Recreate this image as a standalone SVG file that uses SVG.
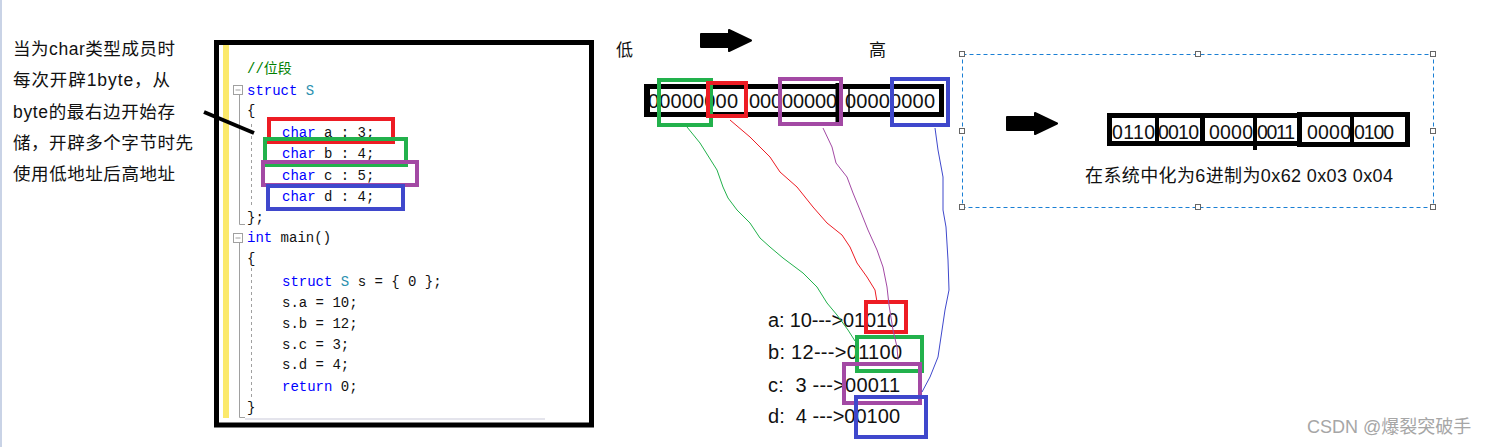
<svg xmlns="http://www.w3.org/2000/svg" width="1493" height="447" viewBox="0 0 1493 447">
<style>
.note{font-family:"Liberation Sans","Noto Sans CJK SC",sans-serif;font-size:17.5px;fill:#111}
.code{font-family:"Liberation Mono","Noto Sans CJK SC",monospace;font-size:14px;fill:#111}
.kw{fill:#0000ff}
.ty{fill:#2b91af}
.cm{fill:#008000}
.bits{font-family:"Liberation Sans","Noto Sans CJK SC",sans-serif;font-size:20px;fill:#111}
.lbl{font-family:"Liberation Sans","Noto Sans CJK SC",sans-serif;font-size:17px;fill:#111}
.hl{fill:none;stroke-width:4}
.red{stroke:#ed1c24}.green{stroke:#22b14c}.purple{stroke:#a349a4}.blue{stroke:#3f48cc}
.blk{fill:none;stroke:#000}
.curve{fill:none;stroke-width:1}
.handle{fill:#fff;stroke:#666;stroke-width:1}
.arrow{fill:#000;stroke:#000;stroke-width:2;stroke-linejoin:round}
</style>
<defs>
<polygon id="bigArrow" class="arrow" points="1,5 29,5 29,1 51,11.5 29,22 29,18 1,18"/>
</defs>
<rect x="0" y="0" width="1493" height="447" fill="#fff"/>
<rect x="0" y="0" width="2" height="447" fill="#c9d3e6"/>

<g id="note">
<text class="note" x="13" y="54.5" textLength="162">当为char类型成员时</text>
<text class="note" x="13" y="86" textLength="157">每次开辟1byte，从</text>
<text class="note" x="13" y="117.5" textLength="162">byte的最右边开始存</text>
<text class="note" x="13" y="148.5" textLength="180">储，开辟多个字节时先</text>
<text class="note" x="13" y="179.5" textLength="162">使用低地址后高地址</text>
</g>

<g id="code-box">
<rect x="216.5" y="42.5" width="375" height="382.5" fill="#fff" stroke="#000" stroke-width="5"/>
<rect x="223" y="45" width="6" height="373" fill="#fbe96b"/>
<rect x="245" y="418" width="300" height="2" fill="#e4e4ec"/>
<g fill="none" stroke="#a0a0a0" stroke-width="1">
<rect x="233.5" y="85.5" width="9" height="9" fill="#fff"/>
<line x1="235.5" y1="90" x2="240.5" y2="90"/>
<polyline points="239.5,95 239.5,224.5 245,224.5"/>
<line x1="251.5" y1="124" x2="251.5" y2="207" stroke-dasharray="3 3"/>
<rect x="233.5" y="233.5" width="9" height="9" fill="#fff"/>
<line x1="235.5" y1="238" x2="240.5" y2="238"/>
<polyline points="239.5,243 239.5,417.5 245,417.5"/>
<line x1="251.5" y1="268" x2="251.5" y2="398" stroke-dasharray="3 3"/>
</g>
<g class="code" xml:space="preserve">
<text x="247" y="73"><tspan class="cm">//位段</tspan></text>
<text x="247" y="95"><tspan class="kw">struct</tspan> <tspan class="ty">S</tspan></text>
<text x="247" y="115">{</text>
<text x="282" y="137"><tspan class="kw">char</tspan> a : 3;</text>
<text x="282" y="158"><tspan class="kw">char</tspan> b : 4;</text>
<text x="282" y="180"><tspan class="kw">char</tspan> c : 5;</text>
<text x="282" y="201"><tspan class="kw">char</tspan> d : 4;</text>
<text x="247" y="222">};</text>
<text x="247" y="242"><tspan class="kw">int</tspan> main()</text>
<text x="247" y="263">{</text>
<text x="282" y="286"><tspan class="kw">struct</tspan> <tspan class="ty">S</tspan> s = { 0 };</text>
<text x="282" y="307">s.a = 10;</text>
<text x="282" y="328">s.b = 12;</text>
<text x="282" y="349">s.c = 3;</text>
<text x="282" y="369">s.d = 4;</text>
<text x="282" y="391"><tspan class="kw">return</tspan> 0;</text>
<text x="247" y="412">}</text>
</g>
<rect class="hl red" x="269" y="119" width="124" height="23"/>
<rect class="hl green" x="265" y="139" width="141" height="26"/>
<rect class="hl purple" x="263" y="162" width="154" height="23"/>
<rect class="hl blue" x="268" y="186" width="135" height="23"/>
</g>

<g id="memory-row">
<text class="lbl" x="616" y="56">低</text>
<text class="lbl" x="869" y="56">高</text>
<use href="#bigArrow" x="700" y="29"/>
<rect x="648" y="87" width="292" height="27" fill="#fff"/>
<text class="bits" x="648" y="108" textLength="90">00000000</text>
<text class="bits" x="749" y="108" textLength="88">00000000</text>
<text class="bits" x="845" y="108" textLength="90">00000000</text>
<rect class="blk" x="647.5" y="86.5" width="294" height="28" stroke-width="5"/>
<line x1="646" y1="84" x2="646" y2="117" stroke="#000" stroke-width="4"/>
<line x1="838.5" y1="83" x2="838.5" y2="125" stroke="#000" stroke-width="6"/>
<line x1="849" y1="87" x2="849" y2="112" stroke="#000" stroke-width="1.5"/>
<rect class="hl green" x="659" y="80" width="52" height="45"/>
<rect class="hl red" x="708" y="83" width="38" height="33"/>
<rect class="hl purple" x="780" y="79" width="61" height="45"/>
<rect class="hl blue" x="892" y="79" width="56" height="46"/>
</g>

<g id="bit-values">
<text class="bits" x="768" y="327" textLength="130" xml:space="preserve">a: 10---&gt;01010</text>
<text class="bits" x="768" y="359" textLength="134" xml:space="preserve">b: 12---&gt;01100</text>
<text class="bits" x="768" y="392" textLength="132" xml:space="preserve">c:  3 ---&gt;00011</text>
<text class="bits" x="768" y="423" textLength="132" xml:space="preserve">d:  4 ---&gt;00100</text>
<rect class="hl red" x="866" y="302" width="40" height="30"/>
<rect class="hl green" x="857" y="337" width="65" height="34"/>
<rect class="hl purple" x="844" y="364" width="76" height="39"/>
<rect class="hl blue" x="856" y="397" width="70" height="40"/>
</g>

<g id="result-panel">
<rect x="962.5" y="54.5" width="471" height="153" fill="none" stroke="#1a7fd4" stroke-width="1" stroke-dasharray="4 3"/>
<rect class="handle" x="959.5" y="51.5" width="5" height="5"/>
<rect class="handle" x="1195.5" y="51.5" width="5" height="5"/>
<rect class="handle" x="1430.5" y="51.5" width="5" height="5"/>
<rect class="handle" x="959.5" y="128.5" width="5" height="5"/>
<rect class="handle" x="1430.5" y="128.5" width="5" height="5"/>
<rect class="handle" x="959.5" y="204.5" width="5" height="5"/>
<rect class="handle" x="1195.5" y="204.5" width="5" height="5"/>
<rect class="handle" x="1430.5" y="204.5" width="5" height="5"/>
<use href="#bigArrow" x="1006" y="112"/>
<text class="bits" x="1112" y="139" textLength="43" style="font-size:19.5px">0110</text>
<text class="bits" x="1158" y="139" textLength="41" style="font-size:19.5px">0010</text>
<text class="bits" x="1209" y="139" textLength="44" style="font-size:19.5px">0000</text>
<text class="bits" x="1257" y="139" textLength="38" style="font-size:19.5px">0011</text>
<text class="bits" x="1307" y="139" textLength="44" style="font-size:19.5px">0000</text>
<text class="bits" x="1354" y="139" textLength="40" style="font-size:19.5px">0100</text>
<rect class="blk" x="1109.5" y="115.5" width="93" height="28" stroke-width="5"/>
<rect class="blk" x="1202.5" y="115.5" width="97" height="28" stroke-width="5"/>
<rect class="blk" x="1299.5" y="114.5" width="108" height="30" stroke-width="5"/>
<line x1="1157" y1="114" x2="1157" y2="145" stroke="#000" stroke-width="4"/>
<line x1="1255" y1="114" x2="1255" y2="150" stroke="#000" stroke-width="4"/>
<line x1="1352" y1="113" x2="1352" y2="146" stroke="#000" stroke-width="4"/>
<text class="lbl" x="1085" y="182" textLength="308" style="font-size:18px">在系统中化为6进制为0x62 0x03 0x04</text>
</g>

<g id="connectors">
<line x1="204" y1="112" x2="254" y2="133" stroke="#000" stroke-width="4"/>
<path class="curve green" d="M687,127 L700,143 L717,170 L723,187 L728,198 L737,210 L750,223 L760,238 L770,247 L783,258 L803,273 L817,287 L827,303 L837,315 L848,330 L855,341"/>
<path class="curve red" d="M730,120 L750,137 L770,157 L780,172 L797,187 L813,207 L827,223 L842,235 L850,247 L857,263 L867,277 L875,290 L877,302"/>
<path class="curve purple" d="M823,128 L832,147 L836,163 L847,177 L853,193 L860,210 L868,230 L877,250 L883,267 L887,287 L889,305 L893,330 L897,347 L898,360"/>
<path class="curve blue" d="M935,128 L938,150 L943,177 L943,210 L946,227 L948,260 L949,290 L945,310 L938,357 L930,377 L922,392"/>
</g>

<text x="1307" y="433" style="font-family:'Liberation Sans','Noto Sans CJK SC',sans-serif;font-size:18px;fill:#a6a6a6">CSDN @爆裂突破手</text>
</svg>
